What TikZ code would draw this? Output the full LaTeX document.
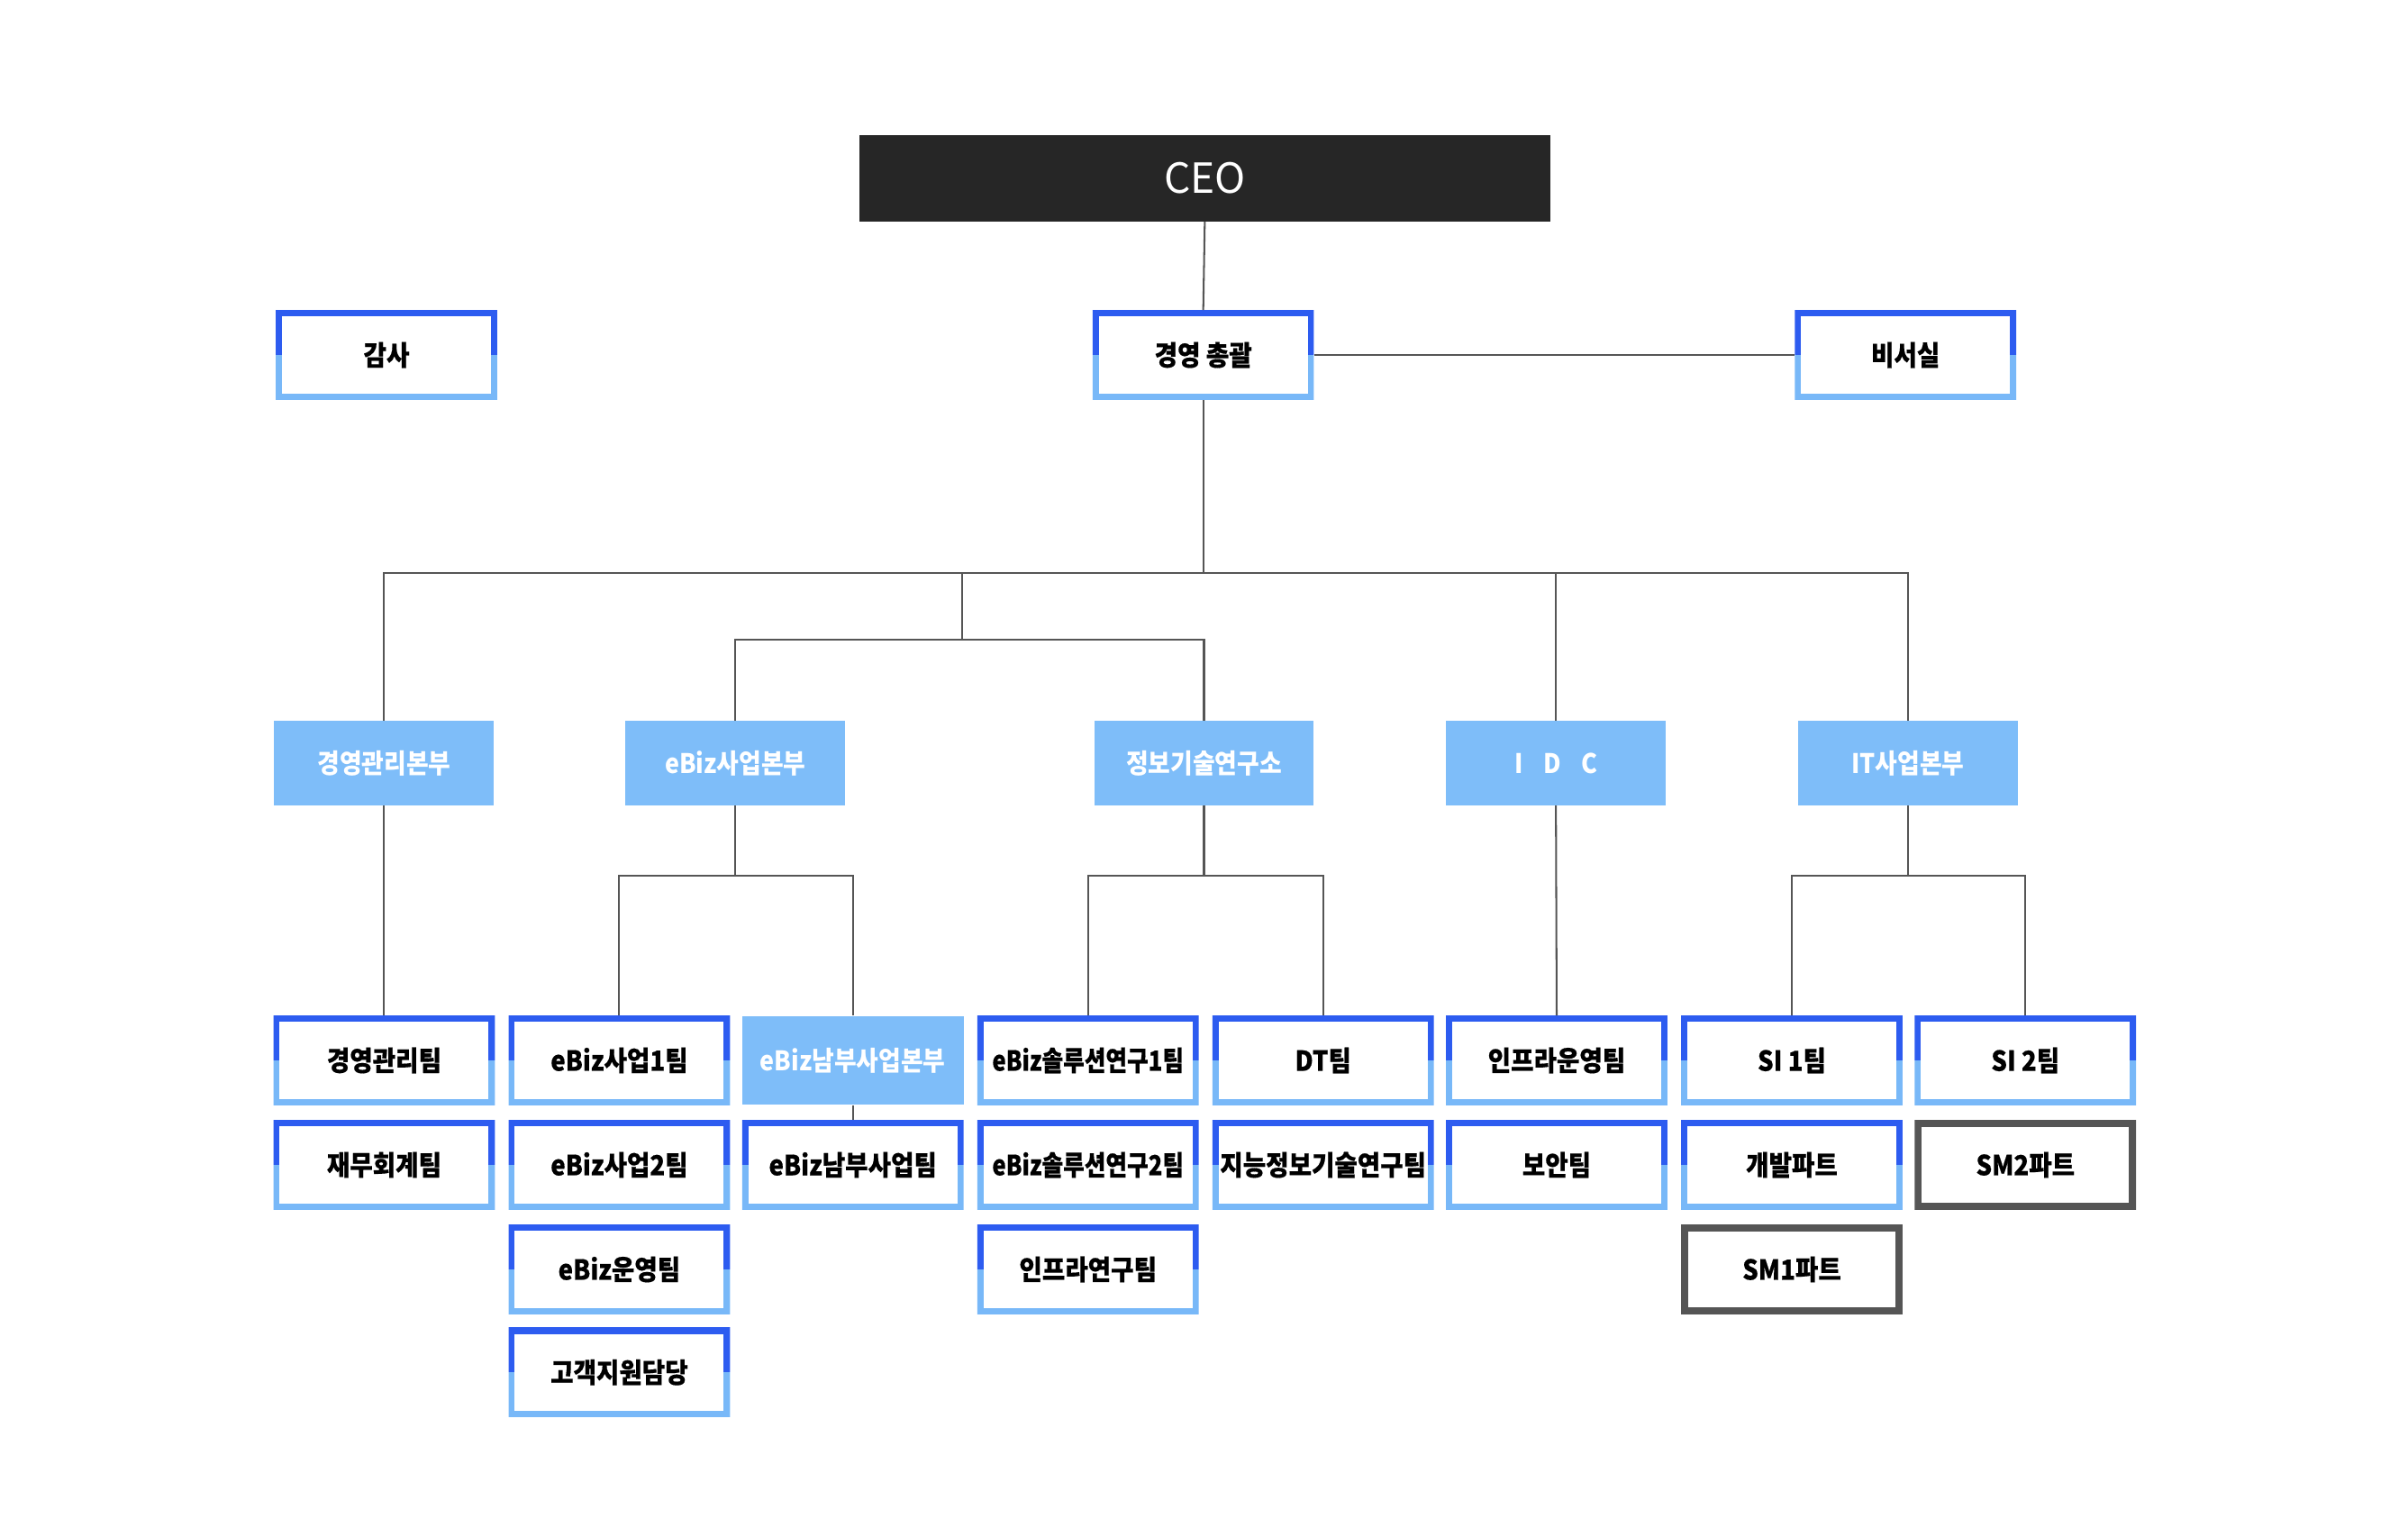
\documentclass[tikz,border=0pt]{standalone}
\usepackage{fontspec}
\newfontfamily\kr{Noto Sans CJK KR}[FakeStretch=0.9, BoldFeatures={FakeBold=0.4}]
\newfontfamily\krw{Noto Sans CJK KR}[FakeStretch=0.9]
\newfontfamily\krc{Noto Sans CJK KR}
\usetikzlibrary{calc}
\definecolor{cdark}{HTML}{2D5CF0}
\definecolor{clight}{HTML}{78B8F8}
\definecolor{cfill}{HTML}{7EBDF9}
\definecolor{cline}{HTML}{555555}
\definecolor{cgray}{HTML}{555555}
\definecolor{cceo}{HTML}{262626}
\newcommand{\sq}[1]{\scalebox{0.93}[1]{#1}}
\tikzset{
  obox/.style={minimum width=144pt, minimum height=58pt, inner sep=0pt, fill=white,
    font=\kr\bfseries\fontsize{18}{20}\selectfont, text=black,
    path picture={
      \draw[cdark, line width=8pt, line join=miter]
        (path picture bounding box.west) |- (path picture bounding box.north east)
        -- (path picture bounding box.east);
      \draw[clight, line width=8pt, line join=miter]
        (path picture bounding box.west) |- (path picture bounding box.south east)
        -- (path picture bounding box.east);
    }},
  gbox/.style={minimum width=144pt, minimum height=58pt, inner sep=0pt, fill=white,
    font=\kr\bfseries\fontsize{18}{20}\selectfont, text=black,
    path picture={
      \draw[cgray, line width=9pt]
        (path picture bounding box.south west) rectangle (path picture bounding box.north east);
    }},
  fbox/.style={minimum width=143pt, minimum height=55pt, inner sep=0pt, fill=cfill,
    font=\krw\bfseries\fontsize{17.5}{20}\selectfont, text=white},
  ceobox/.style={minimum width=450pt, minimum height=56pt, inner sep=0pt, fill=cceo,
    font=\krc\fontsize{27}{30}\selectfont, text=white},
  conn/.style={draw=cline, line width=1.2pt}
}
\begin{document}
\begin{tikzpicture}[x=1pt, y=-1pt]
\useasboundingbox (0,0) rectangle (1567,1000.1);
% top
\node[ceobox] (ceo) at (784,116) {CEO};
\node[obox] (audit) at (251.5,231) {감사};
\node[obox] (gm) at (783,231) {경영 총괄};
\node[obox] (sec) at (1240,231) {비서실};
% headquarters
\node[fbox] (hq1) at (250,496.5) {경영관리본부};
\node[fbox] (hq2) at (478.5,496.5) {eBiz사업본부};
\node[fbox] (hq3) at (783.5,496.5) {정보기술연구소};
\node[fbox] (hq4) at (1012.5,496.5) {{\spaceskip=0.75em I D C}};
\node[fbox] (hq5) at (1241.5,496.5) {IT사업본부};
% teams row 4
\node[obox] (t11) at (250,690) {경영관리팀};
\node[obox] (t21) at (403,690) {eBiz사업1팀};
\node[fbox, minimum width=144pt, minimum height=58pt] (t31) at (555,690) {eBiz남부사업본부};
\node[obox] (t41) at (708,690) {\sq{eBiz솔루션연구1팀}};
\node[obox] (t51) at (861,690) {DT팀};
\node[obox] (t61) at (1013,690) {인프라운영팀};
\node[obox] (t71) at (1166,690) {SI 1팀};
\node[obox] (t81) at (1318,690) {SI 2팀};
% row 5
\node[obox] (t12) at (250,758) {재무회계팀};
\node[obox] (t22) at (403,758) {eBiz사업2팀};
\node[obox] (t32) at (555,758) {eBiz남부사업팀};
\node[obox] (t42) at (708,758) {\sq{eBiz솔루션연구2팀}};
\node[obox] (t52) at (861,758) {지능정보기술연구팀};
\node[obox] (t62) at (1013,758) {보안팀};
\node[obox] (t72) at (1166,758) {개발파트};
\node[gbox] (t82) at (1318,758) {SM2파트};
% row 6
\node[obox] (t23) at (403,826) {eBiz운영팀};
\node[obox] (t43) at (708,826) {인프라연구팀};
\node[gbox] (t73) at (1166,826) {SM1파트};
% row 7
\node[obox] (t24) at (403,893) {고객지원담당};
% junctions
\coordinate (j0) at (783,373);
\coordinate (ja) at (626,373);
\coordinate (jb) at (626,416);
\coordinate (k2) at (478.5,570);
\coordinate (k3) at (783.5,570);
\coordinate (k5) at (1241.5,570);
% connectors
\draw[conn] (ceo.south) -- (gm.north);
\draw[conn] (gm.east) -- (sec.west);
\draw[conn] (gm.south) -- (j0);
\draw[conn] (hq1.north) |- (j0) -| (hq5.north);
\draw[conn] (hq4.north) -- (hq4.north |- j0);
\draw[conn] (ja) -- (jb);
\draw[conn] (hq2.north) |- (jb) -| (hq3.north);
\draw[conn] (hq1.south) -- (t11.north);
\draw[conn] (hq2.south) -- (k2);
\draw[conn] (t21.north) |- (k2) -| (t31.north);
\draw[conn] (hq3.south) -- (k3);
\draw[conn] (t41.north) |- (k3) -| (t51.north);
\draw[conn] (hq4.south) -- (t61.north);
\draw[conn] (hq5.south) -- (k5);
\draw[conn] (t71.north) |- (k5) -| (t81.north);
\draw[conn] (t31.south) -- (t32.north);
\end{tikzpicture}
\end{document}
